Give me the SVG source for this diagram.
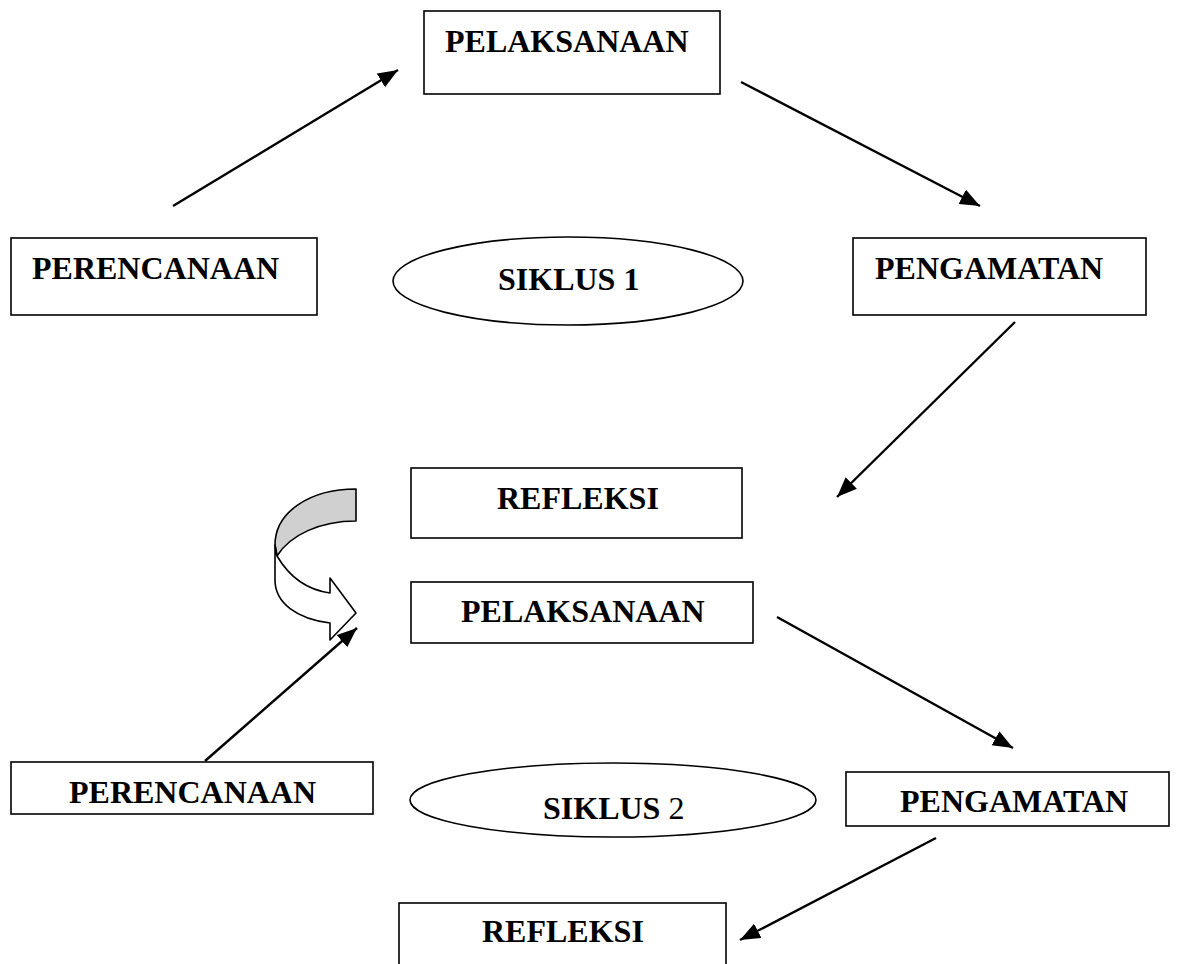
<svg xmlns="http://www.w3.org/2000/svg" width="1193" height="964" viewBox="0 0 1193 964">
<style>
.box{fill:#fff;stroke:#000;stroke-width:1.6}
.lbl{font-family:"Liberation Serif","Times New Roman",serif;font-size:32px;font-weight:bold;fill:#000}
.con{stroke:#000;stroke-width:2.4;fill:none;marker-end:url(#ah)}
</style>
<defs>
<marker id="ah" markerUnits="userSpaceOnUse" markerWidth="22" markerHeight="18" refX="20" refY="8" orient="auto">
<path d="M0,0 L20,8 L0,16 Z" fill="#000"/>
</marker>
</defs>
<rect width="1193" height="964" fill="#fff"/>
<g id="pelaksanaan1"><rect class="box" x="424" y="11" width="296" height="83"/><text class="lbl" x="445" y="52">PELAKSANAAN</text></g>
<g id="perencanaan1"><rect class="box" x="11" y="238" width="306" height="77"/><text class="lbl" x="32" y="279">PERENCANAAN</text></g>
<g id="pengamatan1"><rect class="box" x="853" y="238" width="293" height="77"/><text class="lbl" x="875" y="279">PENGAMATAN</text></g>
<g id="siklus1"><ellipse class="box" cx="568" cy="281" rx="175" ry="44"/><text class="lbl" x="498" y="290">SIKLUS 1</text></g>
<g id="refleksi1"><rect class="box" x="411" y="468" width="331" height="70"/><text class="lbl" x="497" y="509">REFLEKSI</text></g>
<g id="pelaksanaan2"><rect class="box" x="411" y="582" width="342" height="61"/><text class="lbl" x="461" y="622">PELAKSANAAN</text></g>
<g id="perencanaan2"><rect class="box" x="11" y="762" width="362" height="52"/><text class="lbl" x="69" y="803">PERENCANAAN</text></g>
<g id="siklus2"><ellipse class="box" cx="613" cy="800" rx="203" ry="37"/><text class="lbl" x="543" y="819">SIKLUS<tspan font-weight="normal"> 2</tspan></text></g>
<g id="pengamatan2"><rect class="box" x="846" y="772" width="323" height="54"/><text class="lbl" x="900" y="812">PENGAMATAN</text></g>
<g id="refleksi2"><rect class="box" x="399" y="903" width="327" height="80"/><text class="lbl" x="482" y="942">REFLEKSI</text></g>
<g id="curved-arrow" stroke="#000" stroke-width="1.6" stroke-linejoin="round">
<path d="M356,489 C310,489 275,512 275,545 L277,556 C290,535 320,521 356,521 Z" fill="#d0d0d0"/>
<path d="M277,556 C290,578 308,590 330,593 L330,578 L356,613 L330,640 L330,623 C297,619 275,603 275,580 L275,545 Z" fill="#fff"/>
</g>
<g id="connectors">
<line class="con" x1="173" y1="206" x2="398" y2="70"/>
<line class="con" x1="741" y1="82" x2="980" y2="206"/>
<line class="con" x1="1015" y1="322" x2="837" y2="497"/>
<line class="con" x1="205" y1="761" x2="357" y2="628"/>
<line class="con" x1="777" y1="617" x2="1013" y2="748"/>
<line class="con" x1="936" y1="838" x2="740" y2="940"/>
</g>
</svg>
